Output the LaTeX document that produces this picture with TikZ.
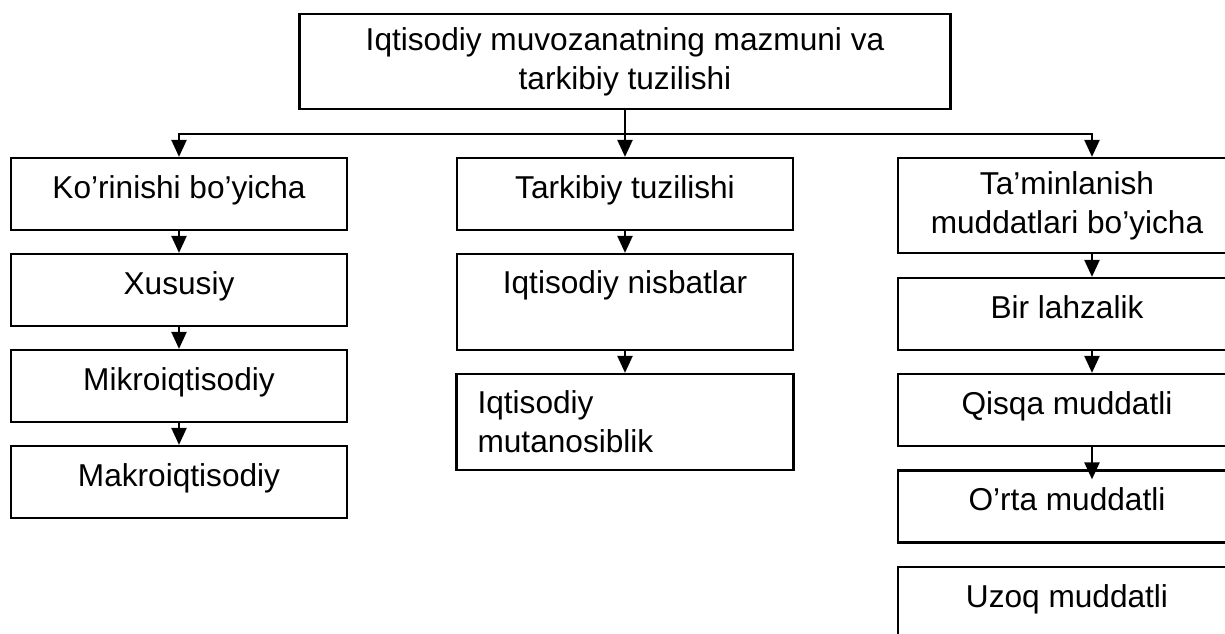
\documentclass[tikz,border=0pt]{standalone}
\usepackage{fontspec}
\setmainfont{Liberation Sans}
\usepackage{tikz}
\usetikzlibrary{arrows.meta,positioning,calc}
\tikzset{
  catbox/.style={rectangle, draw=black, line width=1.3pt,
                 inner xsep=4pt, inner ysep=0pt, minimum width=6.73cm,
                 align=center, font=\fontsize{18}{22.3}\selectfont},
  onebox/.style={catbox, text height=0.8cm, text depth=0.64cm},
  arr/.style={-{Triangle[length=0.34cm, width=0.3cm]}, line width=1.3pt, draw=black},
}
\begin{document}
\begin{tikzpicture}[x=0.02cm, y=-0.02cm]
  \useasboundingbox (0,0) rectangle (1225,633);
  % main box
  \node[catbox, minimum width=13.02cm, minimum height=1.9cm] (top) at (625,61.5)
       {Iqtisodiy muvozanatning mazmuni va\\tarkibiy tuzilishi};
  \coordinate (hub) at (625,134);
  % left column
  \node[onebox] (l1) at (179,194) {Ko’rinishi bo’yicha};
  \node[onebox] (l2) at (179,290) {Xususiy};
  \node[onebox] (l3) at (179,386) {Mikroiqtisodiy};
  \node[onebox] (l4) at (179,482) {Makroiqtisodiy};
  % middle column
  \node[onebox] (m1) at (625,194) {Tarkibiy tuzilishi};
  \node[catbox, text height=0.78cm, text depth=1.14cm] (m2) at (625,302) {Iqtisodiy nisbatlar};
  \node[catbox, minimum height=1.92cm, text width=5.9cm, inner xsep=0.42cm, align=left] (m3) at (625,422)
       {Iqtisodiy\\mutanosiblik};
  % right column
  \node[catbox, minimum width=6.76cm, minimum height=1.9cm] (r1) at (1067,205.5)
       {Ta’minlanish\\muddatlari bo’yicha};
  \node[onebox, minimum width=6.76cm] (r2) at (1067,314) {Bir lahzalik};
  \node[onebox, minimum width=6.76cm] (r3) at (1067,410) {Qisqa muddatli};
  \node[onebox, minimum width=6.76cm] (r4) at (1067,506.5) {O’rta muddatli};
  \node[onebox, minimum width=6.76cm] (r5) at (1067,603) {Uzoq muddatli};
  % connectors
  \draw[arr] (top.south) -- (m1.north);
  \draw[arr] (hub) -| (l1.north);
  \draw[arr] (hub) -| ([xshift=0.5cm]r1.north);
  \draw[arr] (l1) -- (l2);
  \draw[arr] (l2) -- (l3);
  \draw[arr] (l3) -- (l4);
  \draw[arr] (m1) -- (m2);
  \draw[arr] (m2) -- (m3);
  \draw[arr] ([xshift=0.5cm]r1.south) -- ([xshift=0.5cm]r2.north);
  \draw[arr] ([xshift=0.5cm]r2.south) -- ([xshift=0.5cm]r3.north);
  \draw[arr, shorten >=-0.2cm] ([xshift=0.5cm]r3.south) -- ([xshift=0.5cm]r4.north);
\end{tikzpicture}
\end{document}
